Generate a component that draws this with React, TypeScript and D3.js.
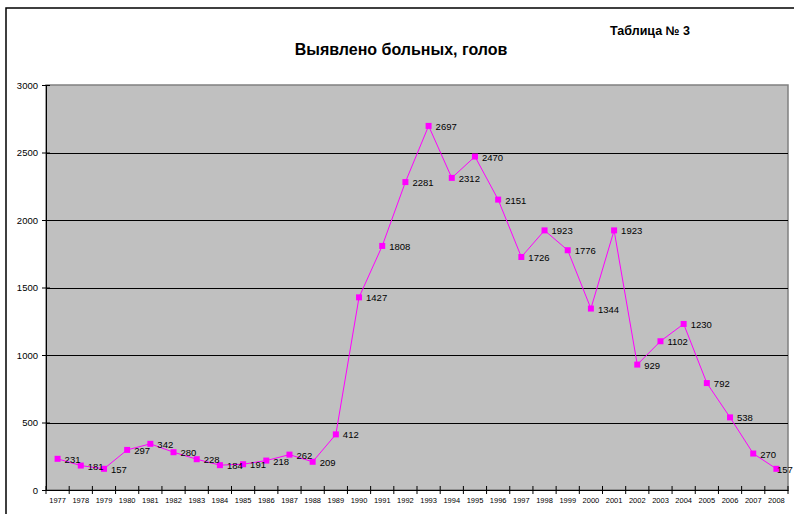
import React, { useEffect, useRef } from 'react';
import * as d3 from 'd3';

const years = [
  '1977', '1978', '1979', '1980', '1981', '1982', '1983', '1984', '1985', '1986', '1987',
  '1988', '1989', '1990', '1991', '1992', '1993', '1994', '1995', '1996', '1997', '1998',
  '1999', '2000', '2001', '2002', '2003', '2004', '2005', '2006', '2007', '2008',
];
const detected = [
  231, 181, 157, 297, 342, 280, 228, 184, 191, 218, 262,
  209, 412, 1427, 1808, 2281, 2697, 2312, 2470, 2151, 1726, 1923,
  1776, 1344, 1923, 929, 1102, 1230, 792, 538, 270, 157,
];
const yTicks = [0, 500, 1000, 1500, 2000, 2500, 3000];

const title = 'Выявлено больных, голов';
const tableNote = 'Таблица № 3';

const FONT = '"Liberation Sans", Arial, sans-serif';

const App = () => {
  const svgRef = useRef<SVGSVGElement>(null);

  useEffect(() => {
    const width = 794, height = 514;
    const plot = { left: 46, top: 85, right: 788, bottom: 490 };

    const svg = d3.select(svgRef.current);
    svg.selectAll('*').remove();
    svg.attr('width', width).attr('height', height);

    svg.append('rect').attr('width', width).attr('height', height).attr('fill', '#fff');
    // outer frame (runs off the picture on the right and bottom)
    svg.append('rect')
      .attr('x', 6).attr('y', 8).attr('width', 850).attr('height', 540)
      .attr('fill', 'none').attr('stroke', '#000').attr('stroke-width', 1.5);

    svg.append('text')
      .attr('x', 401).attr('y', 55)
      .attr('text-anchor', 'middle')
      .attr('font-family', FONT).attr('font-weight', 'bold').attr('font-size', 16)
      .text(title);
    svg.append('text')
      .attr('x', 650).attr('y', 34.5)
      .attr('text-anchor', 'middle')
      .attr('font-family', FONT).attr('font-weight', 'bold').attr('font-size', 12.5)
      .text(tableNote);

    const x = d3.scaleBand().domain(years).range([plot.left, plot.right]);
    const y = d3.scaleLinear().domain([0, 3000]).range([plot.bottom, plot.top]);

    svg.append('rect')
      .attr('x', plot.left).attr('y', plot.top)
      .attr('width', plot.right - plot.left).attr('height', plot.bottom - plot.top)
      .attr('fill', '#c0c0c0').attr('stroke', '#808080').attr('stroke-width', 1.5);

    // grid lines
    svg.append('g')
      .selectAll('line')
      .data(yTicks.filter(v => v > 0 && v < 3000))
      .join('line')
      .attr('x1', plot.left).attr('x2', plot.right)
      .attr('y1', d => Math.round(y(d)) + 0.5).attr('y2', d => Math.round(y(d)) + 0.5)
      .attr('stroke', '#000').attr('stroke-width', 1);

    // y axis
    const yAxis = svg.append('g')
      .attr('transform', `translate(${plot.left},0)`)
      .call(d3.axisLeft(y).tickValues(yTicks).tickSize(4).tickPadding(4).tickFormat(d3.format('d')));
    yAxis.select('.domain').attr('stroke', '#000');
    yAxis.selectAll('.tick line').attr('x1', 4).attr('stroke', '#000');
    yAxis.selectAll('text').attr('font-family', FONT).attr('font-size', 9.5).attr('fill', '#000');

    // x axis
    const xAxis = svg.append('g')
      .attr('transform', `translate(0,${plot.bottom})`)
      .call(d3.axisBottom(x).tickSize(0).tickPadding(8));
    xAxis.select('.domain').attr('stroke', '#000');
    xAxis.selectAll('text').attr('font-family', FONT).attr('font-size', 7.5).attr('fill', '#000');
    const bounds = years.map(d => x(d) as number).concat([plot.right]);
    svg.append('g')
      .selectAll('line')
      .data(bounds)
      .join('line')
      .attr('x1', d => d).attr('x2', d => d)
      .attr('y1', plot.bottom - 4).attr('y2', plot.bottom + 4)
      .attr('stroke', '#000');

    const cx = (d: string) => (x(d) as number) + x.bandwidth() / 2;
    const points = years.map((yr, i) => ({ yr, v: detected[i] }));

    svg.append('path')
      .datum(points)
      .attr('fill', 'none')
      .attr('stroke', '#ff00ff')
      .attr('stroke-width', 1)
      .attr('d', d3.line<{ yr: string; v: number }>().x(d => cx(d.yr)).y(d => y(d.v)));

    svg.append('g')
      .selectAll('rect')
      .data(points)
      .join('rect')
      .attr('x', d => cx(d.yr) - 3).attr('y', d => y(d.v) - 3)
      .attr('width', 6).attr('height', 6)
      .attr('fill', '#ff00ff');

    svg.append('g')
      .selectAll('text')
      .data(points)
      .join('text')
      .attr('x', d => Math.min(cx(d.yr) + 7, width - 17))
      .attr('y', d => y(d.v) + 4)
      .attr('font-family', FONT).attr('font-size', 9.5).attr('fill', '#000')
      .text(d => d.v);
  }, []);

  return <svg ref={svgRef} style={{ position: 'absolute', left: 0, top: 0 }}></svg>;
};

export default App;
